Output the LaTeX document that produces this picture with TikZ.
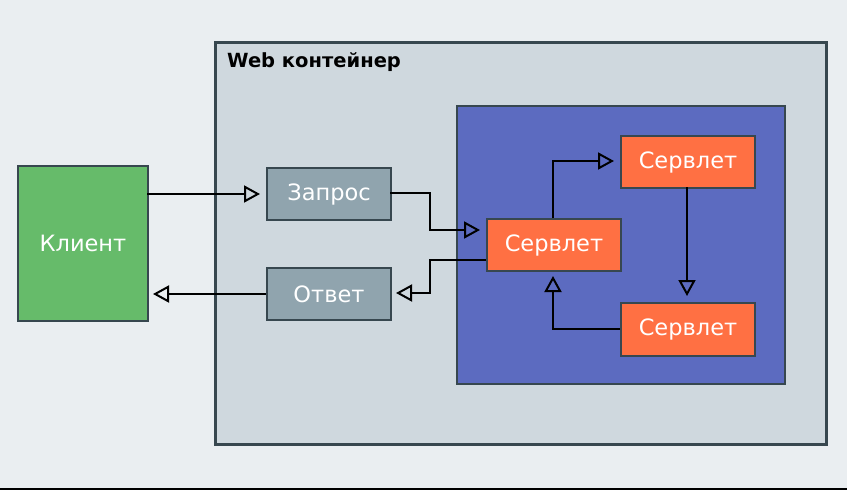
\documentclass[tikz,border=0pt]{standalone}
\usepackage{fontspec}
\setmainfont{DejaVu Sans}
\usetikzlibrary{arrows.meta}
\definecolor{bgc}{HTML}{EAEEF1}
\definecolor{contc}{HTML}{CFD8DE}
\definecolor{edgec}{HTML}{37474F}
\definecolor{greenc}{HTML}{66BB6A}
\definecolor{grayc}{HTML}{90A4AE}
\definecolor{bluec}{HTML}{5C6BC0}
\definecolor{orangec}{HTML}{FF7043}
\tikzset{
  box/.style={draw=edgec, line width=2pt, inner sep=0pt, anchor=north west},
  lbl/.style={text=white, inner sep=0pt, font=\fontsize{22.5}{24}\selectfont},
  conn/.style={draw=black, line width=2pt, -{Triangle[open, length=16pt, width=17pt, line width=2pt]}, shorten >=6pt},
}
\begin{document}
\begin{tikzpicture}[x=1pt, y=-1pt]
\fill[bgc] (0,0) rectangle (847,490);
\useasboundingbox (0,0) rectangle (847,490);
\draw[black, line width=2.5pt] (0,489) -- (847,489);
% container
\node[box, fill=contc, line width=3pt, minimum width=611pt, minimum height=402pt] (cont) at (214,41) {};
\node[anchor=base west, font=\bfseries\fontsize{19.5}{21}\selectfont, text=black, inner sep=0pt] (title) at (227,67) {Web контейнер};
\node[box, fill=bluec, minimum width=328pt, minimum height=278pt] (blue) at (456,105) {};
% nodes
\node[box, fill=greenc, minimum width=130pt, minimum height=155pt] (client) at (17,165) {};
\node[lbl] (clientt) at (client.center) {Клиент};
\node[box, fill=grayc, minimum width=124pt, minimum height=52pt] (req) at (266,167) {};
\node[lbl] (reqt) at (req.center) {Запрос};
\node[box, fill=grayc, minimum width=124pt, minimum height=52pt] (resp) at (266,267) {};
\node[lbl] (respt) at (resp.center) {Ответ};
\node[box, fill=orangec, minimum width=134pt, minimum height=52pt] (s1) at (486,218) {};
\node[lbl] (s1t) at (s1.center) {Сервлет};
\node[box, fill=orangec, minimum width=134pt, minimum height=52pt] (s2) at (620,135) {};
\node[lbl] (s2t) at (s2.center) {Сервлет};
\node[box, fill=orangec, minimum width=134pt, minimum height=53pt] (s3) at (620,302) {};
\node[lbl] (s3t) at (s3.center) {Сервлет};
% coordinates
\coordinate (a1) at (147,194);
\coordinate (a2) at (266,194);
\coordinate (b1) at (390,193);
\coordinate (b2) at (430,193);
\coordinate (b3) at (430,230);
\coordinate (b4) at (486,230);
\coordinate (c1) at (486,260);
\coordinate (c2) at (430,260);
\coordinate (c3) at (430,293);
\coordinate (c4) at (390,293);
\coordinate (d1) at (266,294);
\coordinate (d2) at (147,294);
\coordinate (e1) at (553,218);
\coordinate (e2) at (553,161);
\coordinate (e3) at (620,161);
\coordinate (f1) at (687,187);
\coordinate (f2) at (687,302);
\coordinate (g1) at (620,329);
\coordinate (g2) at (553,329);
\coordinate (g3) at (553,270);
% connectors
\draw[conn] (a1) -- (a2);
\draw[conn] (b1) -- (b2) -- (b3) -- (b4);
\draw[conn] (c1) -- (c2) -- (c3) -- (c4);
\draw[conn] (d1) -- (d2);
\draw[conn] (e1) -- (e2) -- (e3);
\draw[conn] (f1) -- (f2);
\draw[conn] (g1) -- (g2) -- (g3);
\end{tikzpicture}
\end{document}
